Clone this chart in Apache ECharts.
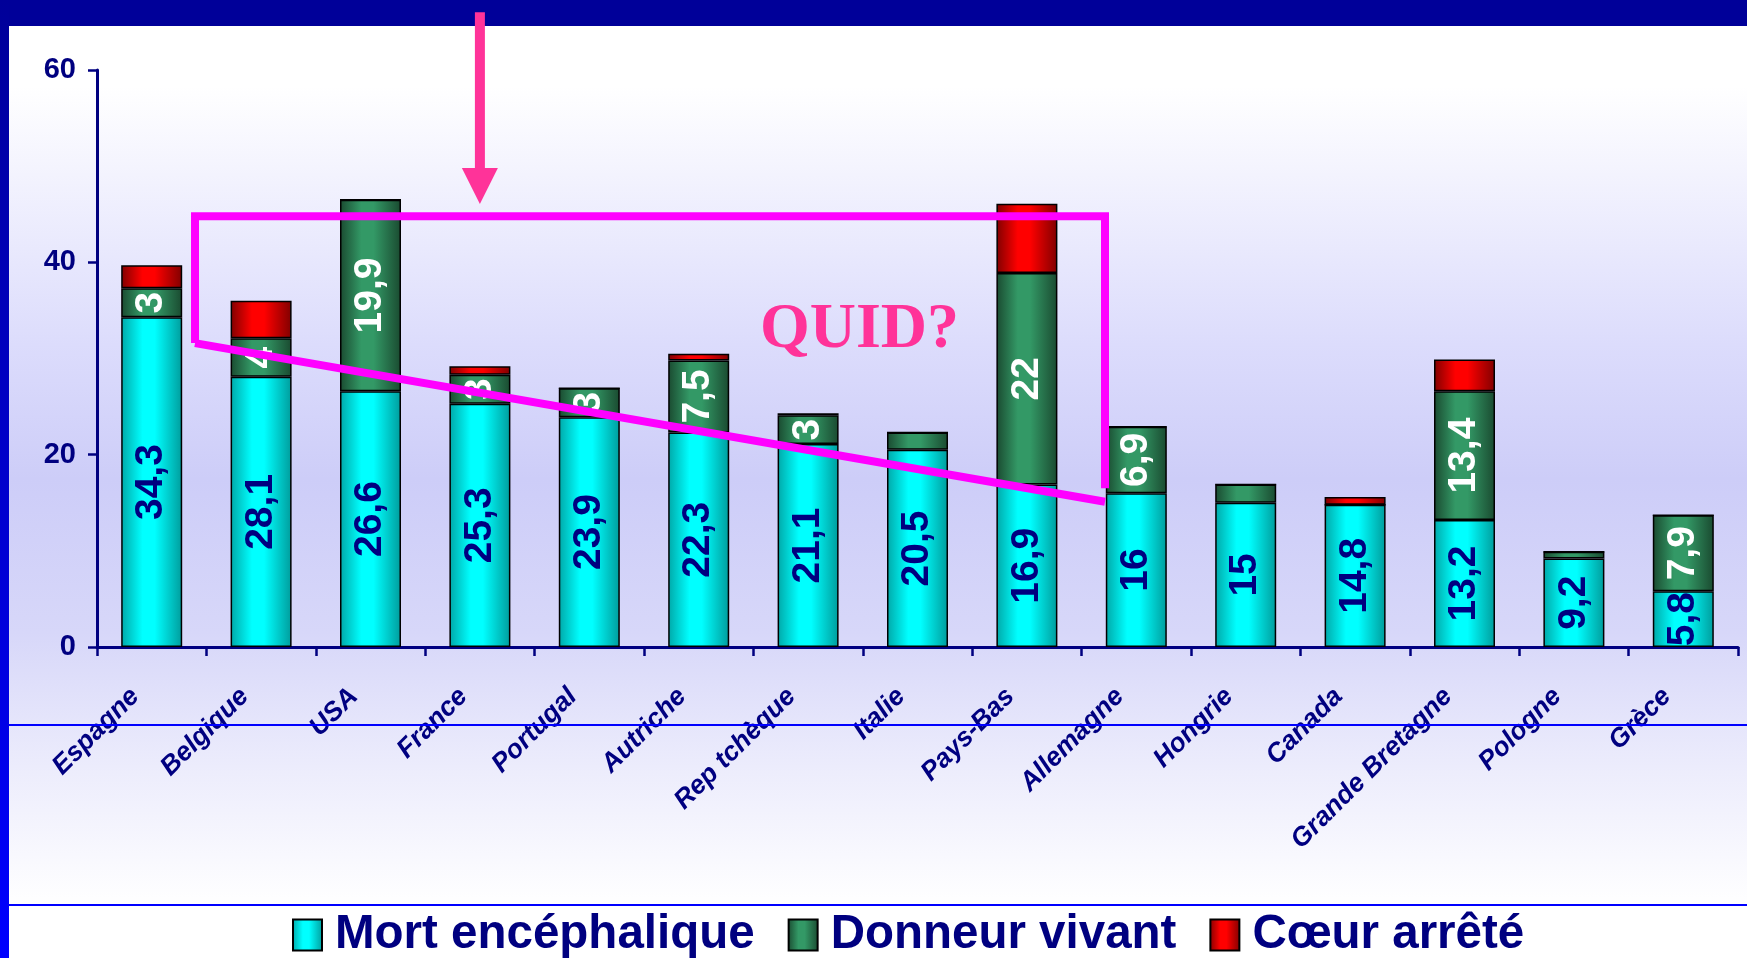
<!DOCTYPE html>
<html>
<head>
<meta charset="utf-8">
<title>Taux de prélèvement par pays</title>
<script src="https://cdn.jsdelivr.net/npm/echarts@6/dist/echarts.min.js"></script>
<style>
  html, body { margin: 0; padding: 0; background: #ffffff; }
  #chart { width: 1747px; height: 958px; }
</style>
</head>
<body>
<div id="chart"></div>
<script>
// Donneurs par million d'habitants, par pays et par type de donneur
const countries = ['Espagne', 'Belgique', 'USA', 'France', 'Portugal', 'Autriche', 'Rep tchèque', 'Italie',
  'Pays-Bas', 'Allemagne', 'Hongrie', 'Canada', 'Grande Bretagne', 'Pologne', 'Grèce'];
const mortEncephalique = [34.3, 28.1, 26.6, 25.3, 23.9, 22.3, 21.1, 20.5, 16.9, 16, 15, 14.8, 13.2, 9.2, 5.8];
const donneurVivant    = [3, 4, 19.9, 3, 3, 7.5, 3, 1.8, 22, 6.9, 1.9, 0, 13.4, 0.7, 7.9];
const coeurArrete      = [2.4, 3.9, 0, 0.9, 0, 0.7, 0.2, 0, 7.2, 0, 0, 0.8, 3.3, 0, 0];
const seriesNames = ['Mort encéphalique', 'Donneur vivant', 'Cœur arrêté'];
const yMin = 0, yMax = 60, yStep = 20;

// Annotation geometry, in data units (x = category index, y = value)
const bracketPath = [[0.396, 31.6], [0.396, 44.8], [8.714, 44.8], [8.714, 16.5]];
const trendPath   = [[0.396, 31.6], [8.714, 15.1]];
const arrowX = 3, arrowStart = 66, arrowHeadBase = 49.8, arrowTip = 46.07;
const quidPos = [6.47, 32.9];

const NAVY = '#000080';
const SANS = '"Liberation Sans", Arial, sans-serif';

const hGrad = (edgeL, mid, edgeR) => ({
  type: 'linear', x: 0, y: 0, x2: 1, y2: 0,
  colorStops: [
    { offset: 0, color: edgeL }, { offset: 0.35, color: mid },
    { offset: 0.55, color: mid }, { offset: 1, color: edgeR }
  ]
});

const fmt = v => String(v).replace('.', ',');

const barBase = {
  type: 'bar', stack: 'total', barWidth: 61,
  xAxisIndex: 0, yAxisIndex: 0
};

const chart = echarts.init(document.getElementById('chart'), null, { renderer: 'canvas' });

const option = {
  animation: false,
  backgroundColor: 'transparent',
  graphic: [
    { type: 'rect', id: 'bg', z: -10, silent: true, shape: { x: 0, y: 0, width: 1747, height: 958 },
      style: { fill: { type: 'linear', x: 0, y: 0, x2: 0, y2: 1, colorStops: [
        { offset: 0, color: '#ffffff' }, { offset: 0.09, color: '#ffffff' },
        { offset: 0.36, color: '#dcdcfc' }, { offset: 0.5, color: '#cdcdf8' },
        { offset: 0.66, color: '#d7d7f9' }, { offset: 0.8, color: '#ececfc' },
        { offset: 0.945, color: '#ffffff' }, { offset: 1, color: '#ffffff' } ] } } },
    { type: 'rect', id: 'topBand', z: 5, silent: true, shape: { x: 0, y: 0, width: 1747, height: 26 },
      style: { fill: '#000099' } },
    { type: 'rect', id: 'leftBand', z: 5, silent: true, shape: { x: 0, y: 0, width: 9, height: 958 },
      style: { fill: { type: 'linear', x: 0, y: 0, x2: 0, y2: 1, colorStops: [
        { offset: 0, color: '#000099' }, { offset: 1, color: '#0000ff' } ] } } },
    { type: 'line', id: 'rule1', z: 5, silent: true, shape: { x1: 9, y1: 725, x2: 1747, y2: 725 },
      style: { stroke: '#0000ff', lineWidth: 2 } },
    { type: 'line', id: 'rule2', z: 5, silent: true, shape: { x1: 9, y1: 905, x2: 1747, y2: 905 },
      style: { stroke: '#0000ff', lineWidth: 2 } }
  ],
  grid: { left: 97, right: 9, top: 70, bottom: 311, containLabel: false },
  legend: {
    data: seriesNames,
    left: 292, top: 911, padding: 0,
    itemWidth: 29, itemHeight: 31, itemGap: 33,
    icon: 'rect',
    textStyle: { fontFamily: SANS, fontSize: 47.5, fontWeight: 'bold', color: NAVY, padding: [0, 0, 0, 8] }
  },
  xAxis: [
    {
      type: 'category', data: countries,
      axisLine: { show: true, lineStyle: { color: NAVY, width: 3 } },
      axisTick: { show: true, length: 9, lineStyle: { color: NAVY, width: 2.5 } },
      axisLabel: {
        interval: 0, rotate: 45, margin: 48,
        verticalAlign: 'bottom', padding: [0, 10, 0, 0],
        fontFamily: SANS, fontSize: 26.5, fontWeight: 'bold', fontStyle: 'italic', color: NAVY
      },
      splitLine: { show: false }
    },
    { type: 'value', min: -0.5, max: 14.5, show: false }
  ],
  yAxis: {
    type: 'value', min: yMin, max: yMax, interval: yStep,
    axisLine: { show: true, onZero: false, lineStyle: { color: NAVY, width: 3 } },
    axisTick: { show: true, length: 9, lineStyle: { color: NAVY, width: 2.5 } },
    axisLabel: { margin: 21, fontFamily: SANS, fontSize: 29, fontWeight: 'bold', color: NAVY },
    splitLine: { show: false }
  },
  series: [
    Object.assign({}, barBase, {
      name: seriesNames[0], data: mortEncephalique,
      itemStyle: { color: hGrad('#00a8a8', '#00ffff', '#009c9c'), borderColor: '#000', borderWidth: 1.5 },
      label: { show: true, position: 'inside', rotate: 90, fontFamily: SANS, fontSize: 39, fontWeight: 'bold',
        color: NAVY, formatter: p => fmt(p.value) }
    }),
    Object.assign({}, barBase, {
      name: seriesNames[1], data: donneurVivant,
      itemStyle: { color: hGrad('#1a4a30', '#339966', '#1a4a30'), borderColor: '#000', borderWidth: 1.5 },
      label: { show: true, position: 'inside', rotate: 90, fontFamily: SANS, fontSize: 39, fontWeight: 'bold',
        color: '#ffffff', formatter: p => (p.value >= 2.5 ? fmt(p.value) : '') }
    }),
    Object.assign({}, barBase, {
      name: seriesNames[2], data: coeurArrete,
      itemStyle: { color: hGrad('#800000', '#ff0000', '#800000'), borderColor: '#000', borderWidth: 1.5 },
      label: { show: false }
    })
  ]
};

chart.setOption(option);

// Annotations placed in data space
const toPx = (x, y) => chart.convertToPixel({ xAxisIndex: 1, yAxisIndex: 0 }, [x, y]);
const arrowTipPt = toPx(arrowX, arrowTip);
const arrowStartPt = toPx(arrowX, arrowStart);
const arrowBasePt = toPx(arrowX, arrowHeadBase);
const quidPt = toPx(quidPos[0], quidPos[1]);

chart.setOption({
  graphic: [
    { type: 'polyline', id: 'bracket', z: 50, silent: true,
      shape: { points: bracketPath.map(p => toPx(p[0], p[1])) },
      style: { stroke: '#ff00ff', lineWidth: 8, fill: null, lineJoin: 'miter' } },
    { type: 'polyline', id: 'trend', z: 50, silent: true,
      shape: { points: trendPath.map(p => toPx(p[0], p[1])) },
      style: { stroke: '#ff00ff', lineWidth: 8, fill: null } },
    { type: 'rect', id: 'arrowShaft', z: 50, silent: true,
      shape: { x: arrowTipPt[0] - 5, y: arrowStartPt[1], width: 10, height: arrowBasePt[1] - arrowStartPt[1] + 1 },
      style: { fill: '#ff3399' } },
    { type: 'polygon', id: 'arrowHead', z: 50, silent: true,
      shape: { points: [[arrowTipPt[0] - 18, arrowBasePt[1]], [arrowTipPt[0] + 18, arrowBasePt[1]], arrowTipPt] },
      style: { fill: '#ff3399' } },
    { type: 'text', id: 'quid', z: 50, silent: true,
      x: quidPt[0], y: quidPt[1],
      style: { text: 'QUID?', fill: '#ff3399', align: 'center', verticalAlign: 'middle',
        font: 'bold 64px "Liberation Serif", "Times New Roman", serif' } }
  ]
});
</script>
</body>
</html>
